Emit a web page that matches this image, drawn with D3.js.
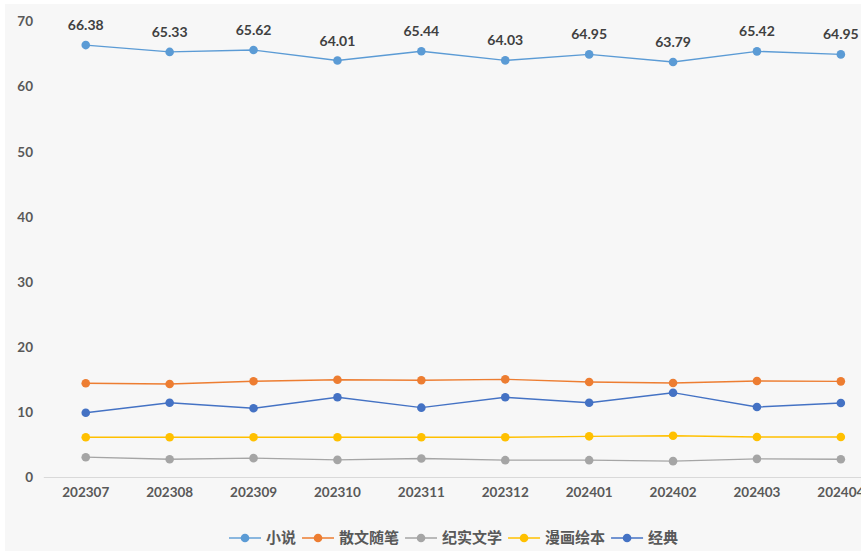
<!DOCTYPE html>
<html><head><meta charset="utf-8">
<script src="https://cdn.jsdelivr.net/npm/d3@7"></script>
<style>
html,body{margin:0;padding:0;background:#fff;}
svg{display:block;}
</style></head>
<body>
<script>
const categories = ["202307","202308","202309","202310","202311","202312","202401","202402","202403","202404"];
const seriesNames = ["小说","散文随笔","纪实文学","漫画绘本","经典"];
const xiaoshuo = [66.38,65.33,65.62,64.01,65.44,64.03,64.95,63.79,65.42,64.95];
const sanwen = [14.46,14.35,14.77,15.01,14.92,15.07,14.66,14.51,14.81,14.76];
const jishi = [3.12,2.81,2.97,2.71,2.92,2.66,2.66,2.51,2.86,2.81];
const manhua = [6.17,6.17,6.17,6.17,6.17,6.17,6.32,6.42,6.22,6.22];
const jingdian = [9.95,11.48,10.62,12.31,10.72,12.31,11.48,13.02,10.82,11.44];
const yTicks = [0,10,20,30,40,50,60,70];
const colors = ["#5b9bd5","#ed7d31","#a5a5a5","#ffc000","#4472c4"];

const series = [xiaoshuo, sanwen, jishi, manhua, jingdian].map((v,i)=>({name:seriesNames[i], values:v, color:colors[i]}));

const W=861,H=551;
const svg = d3.select("body").append("svg").attr("width",W).attr("height",H);
svg.append("rect").attr("x",5).attr("y",4).attr("width",W-5).attr("height",H-4).attr("fill","#f7f7f7");

const x = d3.scaleBand().domain(categories).range([43.8,882.8]).padding(0);
const xc = d => x(d)+x.bandwidth()/2;
const y = d3.scaleLinear().domain([0,70]).range([477.5,21.5]);

const font = "Lato, 'Noto Sans CJK SC', sans-serif";

// baseline
svg.append("line").attr("x1",43.8).attr("x2",882.8).attr("y1",y(0)).attr("y2",y(0))
  .attr("stroke","#d9d9d9").attr("stroke-width",1);

// y axis labels
const yAxis = d3.axisLeft(y).tickValues(yTicks).tickSize(0).tickPadding(0);
const gy = svg.append("g").attr("transform","translate(33,0)").call(yAxis);
gy.select(".domain").remove();
gy.selectAll("text").attr("font-family",font).attr("font-weight","bold").attr("font-size",13.5).attr("fill","#595959");

// x axis labels
const xAxis = d3.axisBottom(x).tickSize(0).tickPadding(0);
const gx = svg.append("g").attr("transform","translate(0,487)").call(xAxis);
gx.select(".domain").remove();
gx.selectAll("text").attr("font-family",font).attr("font-weight","bold").attr("font-size",13.5).attr("fill","#595959");

// lines
const line = d3.line().x((d,i)=>xc(categories[i])).y(d=>y(d));
series.forEach(s=>{
  svg.append("path").datum(s.values).attr("d",line).attr("fill","none")
    .attr("stroke",s.color).attr("stroke-width",1.4);
  svg.append("g").selectAll("circle").data(s.values).join("circle")
    .attr("cx",(d,i)=>xc(categories[i])).attr("cy",d=>y(d)).attr("r",4.3).attr("fill",s.color);
});

// data labels on 小说
svg.append("g").selectAll("text").data(xiaoshuo).join("text")
  .attr("x",(d,i)=>xc(categories[i])).attr("y",d=>y(d)-15)
  .attr("text-anchor","middle").attr("font-family",font).attr("font-weight","bold")
  .attr("font-size",14).attr("fill","#404040").text(d=>d.toFixed(2));

// legend
const leg = svg.append("g");
let lx = 229;
const ly = 538;
series.forEach(s=>{
  const g = leg.append("g");
  g.append("line").attr("x1",lx).attr("x2",lx+32).attr("y1",ly).attr("y2",ly).attr("stroke",s.color).attr("stroke-width",1.4);
  g.append("circle").attr("cx",lx+16).attr("cy",ly).attr("r",4.3).attr("fill",s.color);
  const t = g.append("text").attr("x",lx+37).attr("y",ly).attr("dy","0.36em")
    .attr("font-family","'Noto Sans CJK SC', sans-serif").attr("font-weight","bold")
    .attr("font-size",15).attr("fill","#595959").text(s.name);
  const w = t.node().getComputedTextLength();
  lx = lx + 37 + w + 6;
});
</script>
</body></html>
